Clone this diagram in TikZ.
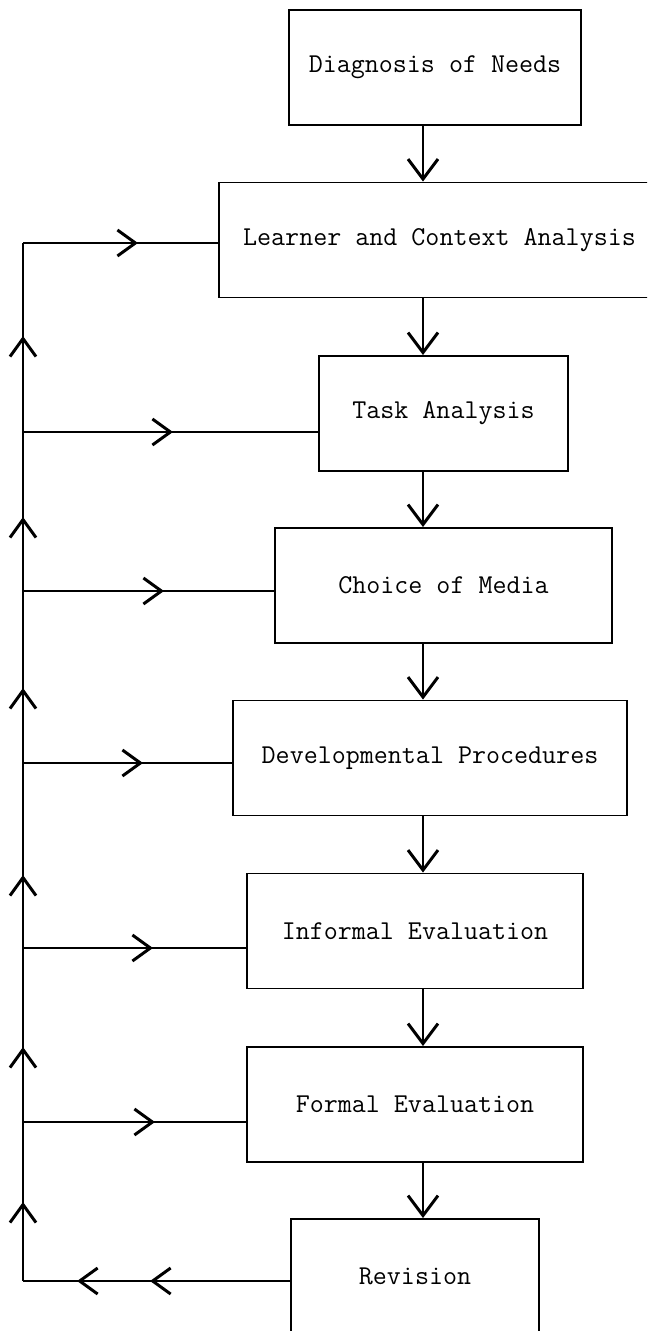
\documentclass[tikz,border=0pt]{standalone}
\usepackage{fontspec}
\usetikzlibrary{arrows.meta,decorations.markings}

\tikzset{
  stage/.style={draw, line width=1.1pt, minimum height=2.3cm, inner sep=0pt,
    font=\ttfamily\fontsize{15.5}{18}\selectfont},
  link/.style={line width=1.1pt},
  chev/.tip={Straight Barb[length=0.36cm,width=0.52cm,line width=1.7pt]},
  flow/.style={link, -{Straight Barb[length=0.4cm,width=0.6cm,line width=1.7pt]}},
  markat/.style={postaction={decorate, decoration={markings,
    mark=at position #1 with {\arrow{chev}}}}}
}

\begin{document}
\begin{tikzpicture}[x=0.02cm, y=-0.02cm]
        \useasboundingbox (0,0) rectangle (647,1331);
        \clip (0,0) rectangle (647,1331);

        % Stages
        \node[stage, minimum width=5.84cm] (diag) at (435,67.5) {Diagnosis of Needs};
        \node[stage, minimum width=8.82cm] (learner) at (439.5,240) {Learner and Context Analysis};
        \node[stage, minimum width=4.98cm] (task) at (443.5,413.5) {Task Analysis};
        \node[stage, minimum width=6.74cm] (media) at (443.5,585.5) {Choice of Media};
        \node[stage, minimum width=7.88cm] (develop) at (430,758) {Developmental Procedures};
        \node[stage, minimum width=6.72cm] (informal) at (415,931) {Informal Evaluation};
        \node[stage, minimum width=6.72cm] (formal) at (415,1104.5) {Formal Evaluation};
        \node[stage, minimum width=4.96cm] (revision) at (415,1276.5) {Revision};

        % Main flow down the middle
        \coordinate (spine) at (423,0);
        \foreach \u/\v in {diag/learner, learner/task, task/media, media/develop,
                           develop/informal, informal/formal, formal/revision}
            \draw[flow] (\u.south -| spine) -- (\v.north -| spine);

        % Feedback loop on the left
        \coordinate (l1) at (23,243);
        \coordinate (l2) at (23,432);
        \coordinate (l3) at (23,591);
        \coordinate (l4) at (23,763);
        \coordinate (l5) at (23,948);
        \coordinate (l6) at (23,1122);
        \coordinate (l7) at (23,1281);
        \foreach \a/\b/\p in {l7/l6/1.58cm, l6/l5/1.5cm, l5/l4/1.46cm,
                              l4/l3/1.5cm, l3/l2/1.48cm, l2/l1/1.92cm}
            \draw[link, markat=\p] (\a) -- (\b);

        % Return lines into each stage
        \draw[link, markat=2.3cm] (l1) -- (l1 -| learner.west);
        \draw[link, markat=3.0cm] (l2) -- (l2 -| task.west);
        \draw[link, markat=2.82cm] (l3) -- (l3 -| media.west);
        \draw[link, markat=2.4cm] (l4) -- (l4 -| develop.west);
        \draw[link, markat=2.6cm] (l5) -- (l5 -| informal.west);
        \draw[link, markat=2.64cm] (l6) -- (l6 -| formal.west);
        \draw[link, markat=2.8cm, markat=4.26cm] (l7 -| revision.west) -- (l7);

    \end{tikzpicture}
\end{document}
